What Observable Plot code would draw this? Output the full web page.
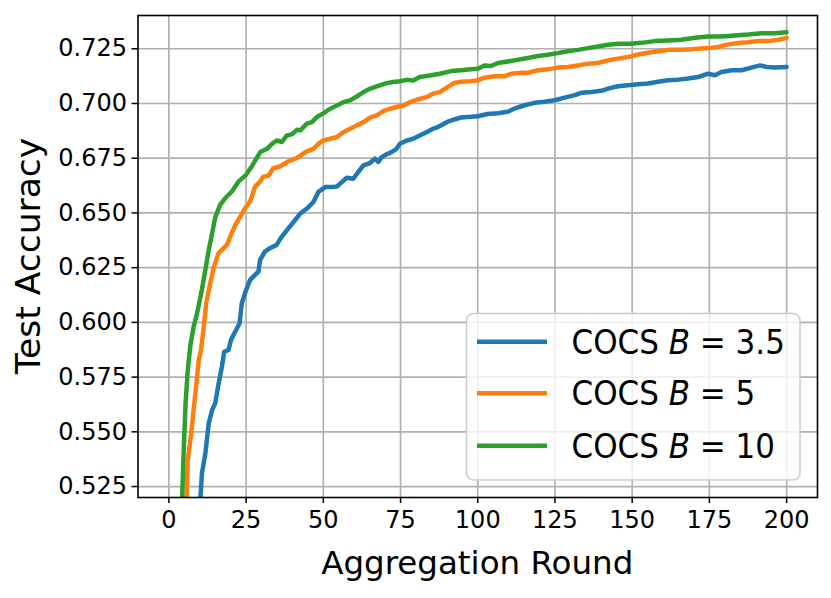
<!DOCTYPE html>
<html><head><meta charset="utf-8">
<script src="https://cdn.jsdelivr.net/npm/d3@7"></script>
<script src="https://cdn.jsdelivr.net/npm/@observablehq/plot@0.6"></script>
<style>
body{margin:0;background:#fff;}
svg{font-family:"DejaVu Sans",sans-serif;}
</style>
</head><body><div id="chart"></div>
<script>
// Series: COCS B = 3.5 (blue)
const roundsB35 = [10, 10.7, 11.8, 12.9, 14.0, 15.0, 16.1, 17.2, 17.9, 19.3, 20.1, 21.5, 22.9, 23.6, 25.0, 26.3, 27.9, 29.0, 29.5, 31.1, 32.7, 34.9,
  36.1, 38.2, 40.4, 42.5, 44.7, 46.8, 48.4, 50.6, 52.7, 54.4, 56.0, 57.6, 59.7, 61.3, 63.0, 65.1, 66.7, 67.8, 68.9, 70.5, 72.1, 73.7, 74.8, 77.0, 79.1, 81.2, 83.4, 85.5, 86.6,
  90.3, 92.4, 94.6, 97.8, 100, 103.2, 106.5, 109.7, 111.9, 115.1, 118.4, 121.6, 124.9, 128.1, 131.4, 133.5, 136.8, 140.0, 142.2, 145.4, 148.6, 151.9, 155.1, 158.4, 161.6, 164.9, 168.1, 171.4, 174.6, 176.8, 178.9, 182.2, 185.4, 188.6, 191.4, 193.5, 196.2, 200];
const accB35 = [0.515, 0.531, 0.540, 0.5539, 0.560, 0.563, 0.572, 0.580, 0.5866, 0.5874, 0.592, 0.5958, 0.5996, 0.6087, 0.6148, 0.6194, 0.6217, 0.6232, 0.6285, 0.6323, 0.6339, 0.6354,
  0.6383, 0.6421, 0.6459, 0.6497, 0.652, 0.655, 0.6596, 0.6618, 0.6618, 0.6621, 0.6641, 0.6661, 0.6656, 0.6687, 0.6717, 0.6728, 0.6748, 0.6733, 0.6755, 0.6768, 0.6778, 0.6793, 0.6816, 0.6831, 0.6839, 0.6854, 0.6869, 0.6885, 0.6889,
  0.6917, 0.6927, 0.6936, 0.6939, 0.6942, 0.6952, 0.6955, 0.6962, 0.6977, 0.6992, 0.7003, 0.7008, 0.7015, 0.7027, 0.7038, 0.7049, 0.7053, 0.7058, 0.7068, 0.7079, 0.7083, 0.7088, 0.7091, 0.7099, 0.7106, 0.7109, 0.7114, 0.7121, 0.7136, 0.7129, 0.7144, 0.7152, 0.7152, 0.7164, 0.7174, 0.7167, 0.7164, 0.7167];

// Series: COCS B = 5 (orange)
const roundsB5 = [5, 5.7, 6.1, 7.2, 8.0, 8.9, 9.7, 10.4, 11.3, 12.1, 13.4, 14.5, 16.1, 18.8, 20.1, 21.5, 23.1, 25, 26.3, 27.9, 29.5, 30.6, 32.2, 33.8, 35.9, 38.6, 41.3, 44.5,
  46.8, 48.4, 50.1, 52.2, 54.4, 56.5, 58.7, 60.8, 63.0, 65.1, 67.3, 69.4, 71.6, 73.7, 75.9, 78.0, 80.2, 83.4, 85.5, 87.7,
  90.3, 92.4, 94.6, 97.8, 100, 102.2, 105.4, 108.6, 110.8, 114.1, 116.2, 119.5, 122.7, 125.9, 129.2, 132.4, 135.7, 138.9, 142.2, 145.4, 148.6, 151.9, 155.1, 158.4, 161.6, 164.9, 168.1, 171.4, 174.6, 177.8, 181.1, 184.3, 187.6, 190.8, 194.1, 197.3, 200];
const accB5 = [0.49, 0.520, 0.537, 0.549, 0.560, 0.572, 0.583, 0.5874, 0.598, 0.609, 0.618, 0.625, 0.6316, 0.6354, 0.640, 0.6445, 0.6483, 0.6529, 0.6552, 0.662, 0.6643, 0.6666, 0.667, 0.6704, 0.6712, 0.6735, 0.675, 0.678,
  0.6793, 0.6816, 0.6831, 0.6839, 0.6847, 0.6869, 0.6885, 0.690, 0.6915, 0.6935, 0.6946, 0.6965, 0.6976, 0.6984, 0.6991, 0.7006, 0.7017, 0.7029, 0.7045, 0.7052,
  0.7076, 0.7094, 0.7099, 0.7102, 0.7106, 0.7118, 0.7124, 0.7124, 0.7136, 0.714, 0.714, 0.7152, 0.7156, 0.7164, 0.7167, 0.7174, 0.7182, 0.7185, 0.7197, 0.7205, 0.7212, 0.7224, 0.7232, 0.7239, 0.7245, 0.7245, 0.7247, 0.725, 0.7253, 0.7258, 0.727, 0.7276, 0.728, 0.7285, 0.7285, 0.7291, 0.730];

// Series: COCS B = 10 (green)
const roundsB10 = [4, 4.3, 4.8, 5.4, 6.1, 7.0, 8.0, 9.1, 10.7, 11.8, 12.9, 13.9, 15.0, 16.6, 18.2, 20.4, 22.5, 25, 26.8, 28.4,
  29.6, 31.8, 33.4, 35.0, 36.6, 38.2, 39.8, 41.5, 42.5, 44.7, 46.3, 47.9, 50.1, 52.2, 54.4, 56.5, 58.7, 60.8, 63.0, 65.1, 67.3, 70.5, 72.6, 74.8, 77.0, 79.1, 81.2, 84.5, 87.7,
  91.4, 94.6, 97.8, 100, 102.2, 104.3, 106.5, 109.7, 113.0, 116.2, 119.5, 122.7, 125.9, 129.2, 132.4, 135.7, 138.9, 142.2, 145.4, 149.7, 153.0, 157.3, 161.6, 165.9, 170.3, 174.6, 178.9, 183.2, 187.6, 191.9, 196.2, 200];
const accB10 = [0.507, 0.5203, 0.5417, 0.563, 0.578, 0.590, 0.598, 0.604, 0.615, 0.624, 0.633, 0.640, 0.648, 0.6537, 0.6567, 0.6598, 0.6643, 0.6674, 0.6712, 0.675,
  0.6778, 0.6793, 0.6816, 0.6831, 0.6824, 0.6854, 0.6859, 0.688, 0.6877, 0.6908, 0.6915, 0.6938, 0.6956, 0.6976, 0.6991, 0.7006, 0.7014, 0.7032, 0.7052, 0.7067, 0.7078, 0.7093, 0.7098, 0.7102, 0.7108, 0.7105, 0.7121, 0.7128, 0.7136,
  0.7148, 0.7152, 0.7156, 0.7159, 0.7174, 0.7171, 0.7185, 0.7192, 0.720, 0.7208, 0.7217, 0.7223, 0.723, 0.7239, 0.7245, 0.7253, 0.726, 0.7268, 0.7273, 0.7273, 0.7277, 0.7285, 0.7288, 0.7291, 0.730, 0.7306, 0.7306, 0.7311, 0.7315, 0.7321, 0.7321, 0.7326];

const seriesNames = ["COCS B = 3.5", "COCS B = 5", "COCS B = 10"];
const legendValues = ["3.5", "5", "10"];
const seriesColors = ["#1f77b4", "#ff7f0e", "#2ca02c"];
const xTicks = [0, 25, 50, 75, 100, 125, 150, 175, 200];
const yTicks = [0.525, 0.55, 0.575, 0.6, 0.625, 0.65, 0.675, 0.7, 0.725];
const xLabel = "Aggregation Round";
const yLabel = "Test Accuracy";

const allRounds = [roundsB35, roundsB5, roundsB10];
const allAcc = [accB35, accB5, accB10];
const data = [];
seriesNames.forEach((name, i) => {
  allRounds[i].forEach((r, j) => data.push({round: r, acc: allAcc[i][j], series: name}));
});

const W = 831, H = 598;
const mL = 137.5, mR = 14, mT = 15, mB = 101;

const plot = Plot.plot({
  width: W, height: H,
  marginLeft: mL, marginRight: mR, marginTop: mT, marginBottom: mB,
  style: {fontFamily: "DejaVu Sans", fontSize: "24px", background: "white", color: "black", overflow: "visible"},
  x: {domain: [-10, 210]},
  y: {domain: [0.52, 0.7402]},
  color: {domain: seriesNames, range: seriesColors},
  marks: [
    Plot.gridX(xTicks, {stroke: "#b0b0b0", strokeOpacity: 1, strokeWidth: 1.7}),
    Plot.gridY(yTicks, {stroke: "#b0b0b0", strokeOpacity: 1, strokeWidth: 1.7}),
    Plot.line(data, {x: "round", y: "acc", z: "series", stroke: "series", strokeWidth: 4.5, strokeLinejoin: "round", clip: true}),
    Plot.frame({stroke: "black", strokeWidth: 1.6}),
    Plot.axisX(xTicks, {tickSize: 6, tickPadding: 7, strokeWidth: 1.5, label: null, tickFormat: d => String(d), fontSize: 24}),
    Plot.axisY(yTicks, {tickSize: 6, tickPadding: 5, strokeWidth: 1.5, label: null, tickFormat: d3.format(".3f"), fontSize: 24})
  ]
});

const svg = d3.select(plot);
// axis titles
svg.append("text")
  .attr("x", mL + (W - mL - mR) / 2).attr("y", 574)
  .attr("text-anchor", "middle")
  .attr("font-size", 32.5).attr("fill", "black")
  .text(xLabel);
svg.append("text")
  .attr("transform", `translate(40,${mT + (H - mT - mB) / 2}) rotate(-90)`)
  .attr("text-anchor", "middle")
  .attr("font-size", 34.5).attr("fill", "black")
  .text(yLabel);

// legend
const lg = svg.append("g");
lg.append("rect")
  .attr("x", 466.5).attr("y", 313.5).attr("width", 333.5).attr("height", 166.5)
  .attr("rx", 7).attr("fill", "white").attr("fill-opacity", 0.8)
  .attr("stroke", "#cccccc").attr("stroke-width", 1.5);
const rowY = [341.7, 393.3, 445.7];
seriesNames.forEach((name, i) => {
  lg.append("line")
    .attr("x1", 477).attr("x2", 547).attr("y1", rowY[i]).attr("y2", rowY[i])
    .attr("stroke", seriesColors[i]).attr("stroke-width", 4.5);
  const t = lg.append("text")
    .attr("transform", `translate(571.5,${rowY[i] + 12}) scale(1,1.08)`)
    .attr("text-anchor", "start")
    .attr("font-size", 31).attr("fill", "black");
  t.append("tspan").text("COCS ");
  t.append("tspan").attr("font-style", "italic").text("B");
  t.append("tspan").text(" = " + legendValues[i]);
});

document.getElementById("chart").appendChild(plot);
</script>
</body></html>
